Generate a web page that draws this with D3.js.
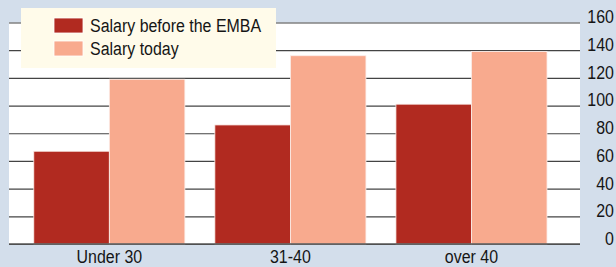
<!DOCTYPE html>
<html>
<head>
<meta charset="utf-8">
<script src="https://cdn.jsdelivr.net/npm/d3@7"></script>
<style>
  body { margin: 0; background: #d3deeb; }
  svg { display: block; }
  text { font-family: "Liberation Sans", Arial, sans-serif; fill: #151515; }
</style>
</head>
<body>
<div class="chart"></div>
<script>
// Chart data.
var categories = ["Under 30", "31-40", "over 40"];
var seriesNames = ["Salary before the EMBA", "Salary today"];
var salaryBefore = [67, 86, 101];
var salaryToday = [119, 136, 139];
var yTicks = [0, 20, 40, 60, 80, 100, 120, 140, 160];

var colors = ["#b12a20", "#f8aa8e"];

// Define SVG dimensions.
var w = 616,
    h = 267;

var plotLeft = 9,
    plotRight = 580,
    plotTop = 22.5,
    plotBottom = 244;

// Condensed look: squeeze text horizontally.
var squeeze = 0.84;
var fontSize = "19px";

var svg = d3.select(".chart").append("svg")
  .attr("width", w)
  .attr("height", h);

// Scales.
var xScale = d3.scaleBand()
  .domain(categories)
  .range([18.8, 562])
  .paddingInner(0.1656)
  .paddingOuter(0.0828);

var xSub = d3.scaleBand()
  .domain(seriesNames)
  .range([0, xScale.bandwidth()]);

var yScale = d3.scaleLinear()
  .domain([0, 160])
  .range([plotBottom, plotTop]);

// White plot area.
svg.append("rect")
  .attr("x", plotLeft)
  .attr("y", yScale(160))
  .attr("width", plotRight - plotLeft)
  .attr("height", yScale(0) - yScale(160))
  .attr("fill", "#fff");

// Gridlines and tick labels on the right.
var yAxis = d3.axisRight(yScale)
  .tickValues(yTicks)
  .tickSize(plotRight - plotLeft);

var gy = svg.append("g")
  .attr("class", "axisY")
  .attr("transform", "translate(" + plotLeft + ",0)")
  .call(yAxis);

gy.select(".domain").remove();
gy.selectAll(".tick line")
  .attr("stroke", "#444")
  .attr("stroke-width", 1.2);
gy.selectAll(".tick text")
  .attr("transform", "scale(" + squeeze + ",1)")
  .attr("x", (614 - plotLeft) / squeeze)
  .attr("text-anchor", "end")
  .attr("dy", "0.02em")
  .style("font-size", fontSize);

// Bars.
var rows = categories.map(function(c, i) {
  return {cat: c, values: [salaryBefore[i], salaryToday[i]]};
});

var groups = svg.selectAll(".group")
  .data(rows)
  .enter()
  .append("g")
  .attr("class", "group")
  .attr("transform", function(d) { return "translate(" + xScale(d.cat) + ",0)"; });

groups.selectAll("rect")
  .data(function(d) {
    return d.values.map(function(v, j) { return {name: seriesNames[j], value: v, idx: j}; });
  })
  .enter()
  .append("rect")
  .attr("x", function(d) { return xSub(d.name); })
  .attr("y", function(d) { return yScale(d.value); })
  .attr("width", xSub.bandwidth())
  .attr("height", function(d) { return plotBottom - yScale(d.value); })
  .attr("fill", function(d) { return colors[d.idx]; })
  .attr("stroke", "#fbeeea")
  .attr("stroke-width", 0.8);

// Baseline and category labels.
var xAxis = d3.axisBottom(xScale).tickSize(0).tickPadding(0);

var gx = svg.append("g")
  .attr("class", "axisX")
  .attr("transform", "translate(0," + plotBottom + ")")
  .call(xAxis);

gx.select(".domain").remove();
gx.selectAll(".tick text")
  .attr("transform", "scale(" + squeeze + ",1)")
  .attr("y", 19)
  .attr("dy", 0)
  .style("font-size", fontSize);

svg.append("line")
  .attr("x1", plotLeft)
  .attr("x2", plotRight)
  .attr("y1", plotBottom)
  .attr("y2", plotBottom)
  .attr("stroke", "#555")
  .attr("stroke-width", 1.5);

// Legend.
var legend = svg.append("g").attr("class", "legend");

legend.append("rect")
  .attr("x", 21)
  .attr("y", 8)
  .attr("width", 255)
  .attr("height", 60)
  .attr("fill", "#fffbea");

seriesNames.forEach(function(name, i) {
  legend.append("rect")
    .attr("x", 54)
    .attr("y", 18 + i * 23)
    .attr("width", 29)
    .attr("height", 15)
    .attr("fill", colors[i])
    .attr("stroke", "#fff")
    .attr("stroke-width", 0.8);

  legend.append("text")
    .attr("transform", "translate(90," + (32.3 + i * 22.7) + ") scale(" + squeeze + ",1)")
    .style("font-size", fontSize)
    .text(name);
});
</script>
</body>
</html>
